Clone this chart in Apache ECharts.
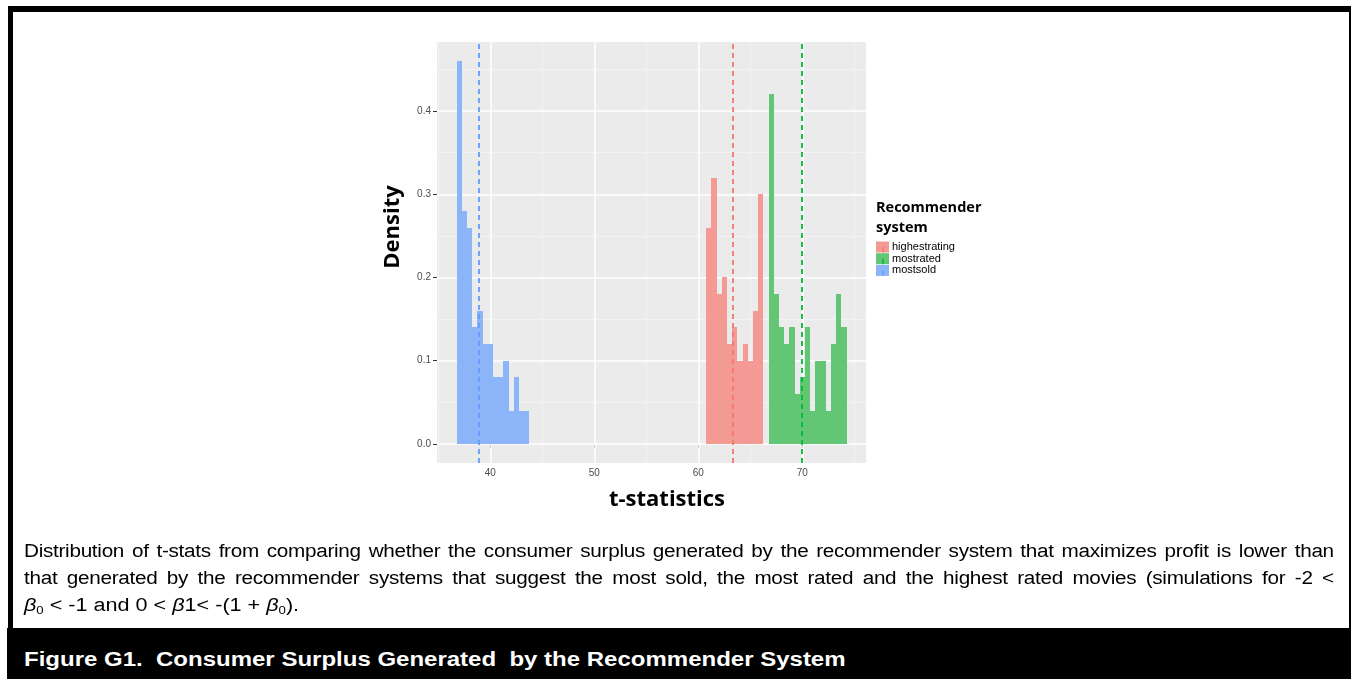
<!DOCTYPE html>
<html>
<head>
<meta charset="utf-8">
<script src="https://cdn.jsdelivr.net/npm/echarts@6/dist/echarts.min.js"></script>
<style>
  html, body { margin: 0; padding: 0; background: #ffffff; }
  body { width: 1351px; height: 679px; position: relative; overflow: hidden; }
  #chart { position: absolute; left: 0; top: 0; width: 1351px; height: 679px; }
  .bar { position: absolute; background: #000; }
  .cap { position: absolute; left: 24px; font-family: "Liberation Sans", Arial, sans-serif;
         font-size: 18px; color: #000; white-space: nowrap; line-height: 22px;
         transform-origin: 0 0; }
  .just { width: 1139px; text-align: justify; text-align-last: justify; letter-spacing: -0.25px;
          transform: scaleX(1.15); }
  .last { transform: scaleX(1.2); }
  .title { position: absolute; left: 24px; top: 648px; font-family: "Liberation Sans", Arial, sans-serif;
           font-weight: bold; font-size: 20px; color: #fff; white-space: pre;
           transform: scaleX(1.2); transform-origin: 0 0; }
  sub { font-size: 11px; vertical-align: -3px; }
</style>
</head>
<body>
<div id="chart"></div>
<div class="bar" style="left:8px; top:6px; width:1343px; height:6px;"></div>
<div class="bar" style="left:8px; top:6px; width:5px; height:673px;"></div>
<div class="bar" style="left:1349px; top:6px; width:2px; height:673px;"></div>
<div class="bar" style="left:7px; top:628px; width:1344px; height:51px;"></div>
<div class="cap just" style="top:540px;">Distribution of t-stats from comparing whether the consumer surplus generated by the recommender system that maximizes profit is lower than</div>
<div class="cap just" style="top:567px;">that generated by the recommender systems that suggest the most sold, the most rated and the highest rated movies (simulations for -2 &lt;</div>
<div class="cap last" style="top:594px;"><i>β</i><sub>0</sub> &lt; -1 and 0 &lt; <i>β</i>1&lt; -(1 + <i>β</i><sub>0</sub>).</div>
<div class="title">Figure G1.  Consumer Surplus Generated  by the Recommender System</div>
<script>
// ---- data ----
const groups = ['highestrating', 'mostrated', 'mostsold'];
const groupColors = ['#F8766D', '#00BA38', '#619CFF'];      // line / legend colours
const groupFills = ['#F39A94', '#62C675', '#8CB4F8'];       // histogram fill (as seen on the grey panel)

const mostsoldEdges = [36.75, 37.25, 37.75, 38.25, 38.75, 39.25, 39.75, 40.25, 40.75, 41.25, 41.75, 42.25, 42.75, 43.25, 43.75];
const mostsoldDensity = [0.46, 0.28, 0.26, 0.14, 0.16, 0.12, 0.12, 0.08, 0.08, 0.10, 0.04, 0.08, 0.04, 0.04];

const highestratingEdges = [60.75, 61.25, 61.75, 62.25, 62.75, 63.25, 63.75, 64.25, 64.75, 65.25, 65.75, 66.25];
const highestratingDensity = [0.26, 0.32, 0.18, 0.20, 0.12, 0.14, 0.10, 0.12, 0.10, 0.16, 0.30];

const mostratedEdges = [66.75, 67.25, 67.75, 68.25, 68.75, 69.25, 69.75, 70.25, 70.75, 71.25, 71.75, 72.25, 72.75, 73.25, 73.75, 74.25];
const mostratedDensity = [0.42, 0.18, 0.14, 0.12, 0.14, 0.06, 0.08, 0.14, 0.04, 0.10, 0.10, 0.04, 0.12, 0.18, 0.14];

const groupMeans = [63.35, 69.95, 38.9]; // highestrating, mostrated, mostsold

const xTickLabels = [40, 50, 60, 70];
const xMinorGrid = [35, 45, 55, 65, 75];
const yTickLabels = [0, 0.1, 0.2, 0.3, 0.4];
const yMinorGrid = [0.05, 0.15, 0.25, 0.35, 0.45];

// ---- build ----
function toBins(edges, dens) {
  const out = [];
  for (let i = 0; i < dens.length; i++) out.push([edges[i], edges[i + 1], dens[i]]);
  return out;
}
const groupBins = [
  toBins(highestratingEdges, highestratingDensity),
  toBins(mostratedEdges, mostratedDensity),
  toBins(mostsoldEdges, mostsoldDensity)
];

function histSeries(idx) {
  const fill = groupFills[idx];
  return {
    type: 'custom',
    name: groups[idx],
    z: 3,
    silent: true,
    data: groupBins[idx],
    encode: { x: [0, 1], y: 2 },
    renderItem: function (params, api) {
      const p0 = api.coord([api.value(0), api.value(2)]);
      const p1 = api.coord([api.value(1), 0]);
      const x0 = Math.round(p0[0]), x1 = Math.round(p1[0]);
      const y0 = Math.round(p0[1]), y1 = Math.round(p1[1]);
      return {
        type: 'rect',
        shape: { x: x0, y: y0, width: x1 - x0, height: y1 - y0 },
        style: { fill: fill, stroke: null, lineWidth: 0 }
      };
    }
  };
}

const gridLines = [];
xMinorGrid.forEach(v => gridLines.push({ xAxis: v, lineStyle: { color: '#F3F3F3', width: 1, type: 'solid' } }));
yMinorGrid.forEach(v => gridLines.push({ yAxis: v, lineStyle: { color: '#F3F3F3', width: 1, type: 'solid' } }));
xTickLabels.forEach(v => gridLines.push({ xAxis: v, lineStyle: { color: '#FFFFFF', width: 1.5, type: 'solid' } }));
yTickLabels.forEach(v => gridLines.push({ yAxis: v, lineStyle: { color: '#FFFFFF', width: 1.5, type: 'solid' } }));

const meanLines = groupMeans.map((m, i) => ({ xAxis: m, lineStyle: { color: groupColors[i], width: 1.8, type: [5, 4] } }));

const series = [
  {
    type: 'line', data: [], z: 1, silent: true,
    markLine: { silent: true, symbol: 'none', label: { show: false }, animation: false, data: gridLines, z: 1 }
  },
  histSeries(0), histSeries(1), histSeries(2),
  {
    type: 'line', data: [], z: 5, silent: true,
    markLine: { silent: true, symbol: 'none', label: { show: false }, animation: false, data: meanLines, z: 5 }
  }
];

// axis titles + legend as graphic
const gfx = [];
gfx.push({ type: 'text', x: 393, y: 227, rotation: Math.PI / 2,
  style: { text: 'Density', font: 'bold 22px "Open Sans"', fill: '#000', align: 'center', verticalAlign: 'middle' } });
gfx.push({ type: 'text', x: 667, y: 500,
  style: { text: 't-statistics', font: 'bold 22px "Open Sans"', fill: '#000', align: 'center', verticalAlign: 'middle' } });
gfx.push({ type: 'text', x: 876, y: 208, style: { text: 'Recommender', font: 'bold 14.5px "Open Sans"', fill: '#000', verticalAlign: 'middle' } });
gfx.push({ type: 'text', x: 876, y: 228, style: { text: 'system', font: 'bold 14.5px "Open Sans"', fill: '#000', verticalAlign: 'middle' } });
groups.forEach((g, i) => {
  const top = 241.5 + i * 11.7;
  gfx.push({ type: 'rect', shape: { x: 876, y: top, width: 13, height: 11 }, style: { fill: groupFills[i] } });
  gfx.push({ type: 'line', shape: { x1: 883, y1: top + 5.5, x2: 883, y2: top + 11 }, style: { stroke: groupColors[i], lineWidth: 1.5 } });
  gfx.push({ type: 'text', x: 892, y: top + 5.5, style: { text: g, font: '11px "Liberation Sans"', fill: '#000', verticalAlign: 'middle' } });
});

const chart = echarts.init(document.getElementById('chart'), null, { renderer: 'canvas' });
chart.setOption({
  animation: false,
  backgroundColor: 'transparent',
  grid: { left: 437, top: 42, width: 429, height: 421, show: true, backgroundColor: '#EBEBEB', borderWidth: 0 },
  xAxis: {
    type: 'value', min: 34.875, max: 76.125,
    axisLine: { show: false },
    axisTick: { show: true, customValues: xTickLabels, length: 4, lineStyle: { color: '#333333', width: 1 } },
    axisLabel: { customValues: xTickLabels, color: '#4D4D4D', fontSize: 10, margin: 5, fontFamily: 'Liberation Sans' },
    splitLine: { show: false }
  },
  yAxis: {
    type: 'value', min: -0.023, max: 0.483,
    axisLine: { show: false },
    axisTick: { show: true, customValues: yTickLabels, length: 4, lineStyle: { color: '#333333', width: 1 } },
    axisLabel: { customValues: yTickLabels, color: '#4D4D4D', fontSize: 10, margin: 6, fontFamily: 'Liberation Sans',
                 formatter: v => v.toFixed(1) },
    splitLine: { show: false }
  },
  series: series,
  graphic: gfx
});
</script>
</body>
</html>
